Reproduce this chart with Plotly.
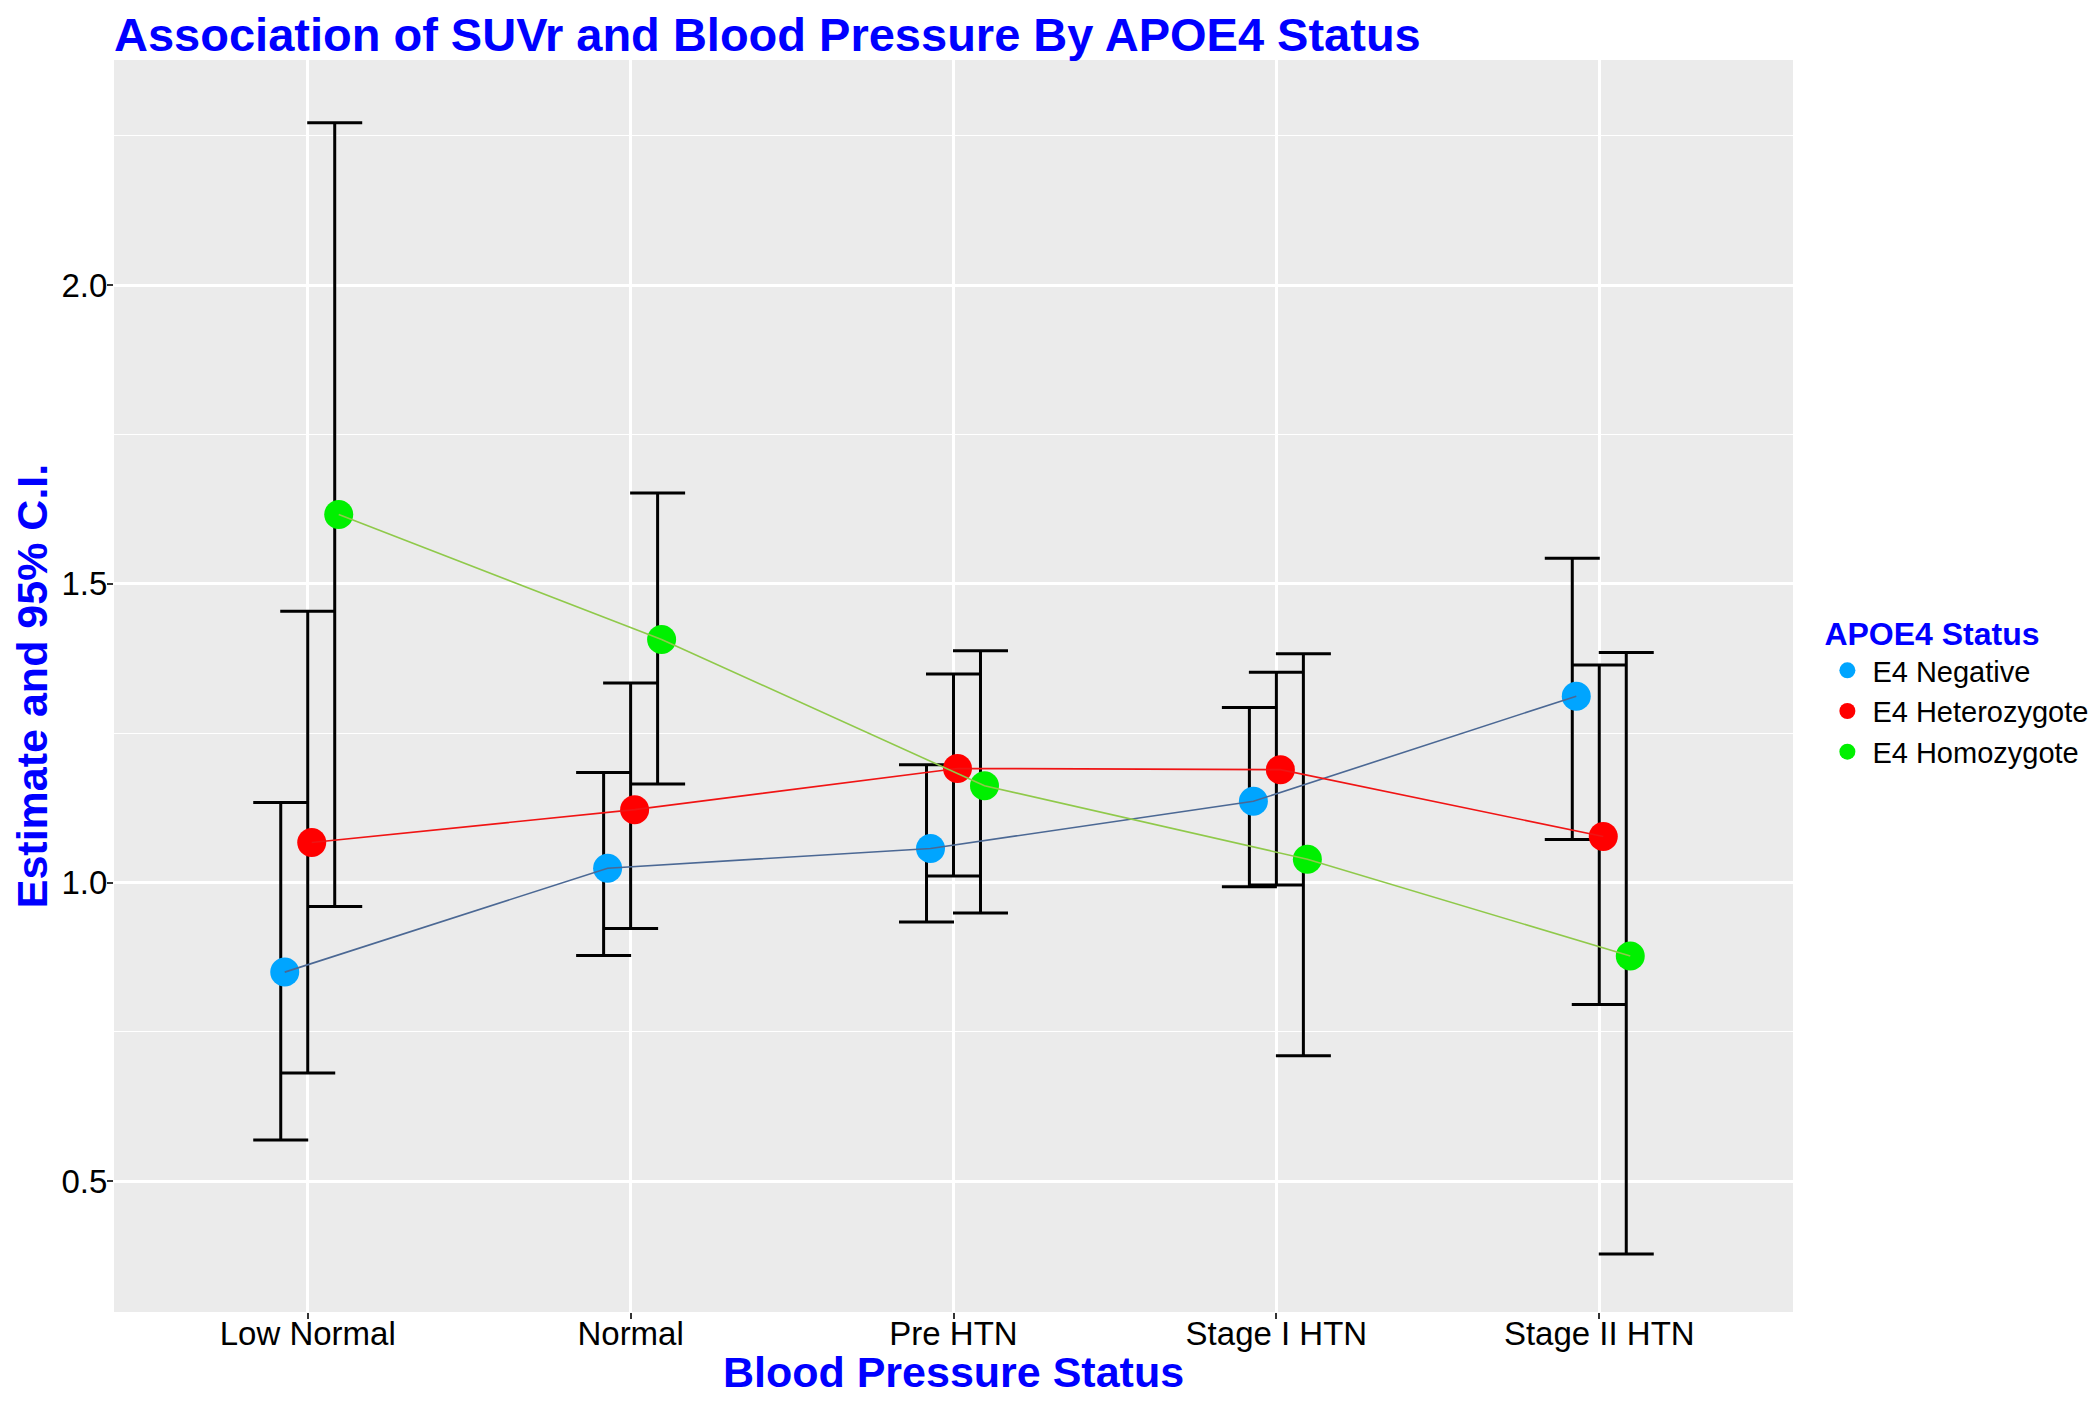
import plotly.graph_objects as go

# ---- data ----
categories = ["Low Normal", "Normal", "Pre HTN", "Stage I HTN", "Stage II HTN"]
groups = ["E4 Negative", "E4 Heterozygote", "E4 Homozygote"]

neg_est = [0.850, 1.024, 1.057, 1.136, 1.312]
neg_lo = [0.569, 0.878, 0.934, 0.993, 1.072]
neg_hi = [1.134, 1.184, 1.197, 1.293, 1.543]

het_est = [1.067, 1.122, 1.191, 1.189, 1.077]
het_lo = [0.681, 0.923, 1.011, 0.996, 0.796]
het_hi = [1.454, 1.334, 1.349, 1.352, 1.364]

hom_est = [1.616, 1.407, 1.162, 1.039, 0.877]
hom_lo = [0.960, 1.165, 0.949, 0.710, 0.378]
hom_hi = [2.272, 1.652, 1.388, 1.383, 1.385]

y_ticks = [0.5, 1.0, 1.5, 2.0]
y_ticklabels = ["0.5", "1.0", "1.5", "2.0"]

# ---- styles ----
point_colors = ["#00A5FF", "#FF0000", "#00F000"]
line_colors = ["#4B6894", "#F01414", "#8FC94A"]
DODGE = 0.0836
POINT_SHIFT = 0.0124
FONT = "Liberation Sans, Arial, sans-serif"
BLUE = "#0000FF"

series = [
    (neg_est, neg_lo, neg_hi),
    (het_est, het_lo, het_hi),
    (hom_est, hom_lo, hom_hi),
]
base_x = list(range(1, len(categories) + 1))

fig = go.Figure()

# error bars (bottom layer)
for gi, (est, lo, hi) in enumerate(series):
    off = (gi - 1) * DODGE
    xs = [b + off for b in base_x]
    fig.add_trace(go.Scatter(
        x=xs, y=est, mode="markers",
        marker=dict(size=1, color="rgba(0,0,0,0)"),
        error_y=dict(type="data", symmetric=False,
                     array=[h - e for h, e in zip(hi, est)],
                     arrayminus=[e - l for e, l in zip(est, lo)],
                     color="black", thickness=3, width=27.5),
        showlegend=False, hoverinfo="skip",
    ))

# points
for gi, (est, lo, hi) in enumerate(series):
    off = (gi - 1) * DODGE + POINT_SHIFT
    xs = [b + off for b in base_x]
    fig.add_trace(go.Scatter(
        x=xs, y=est, mode="markers", name=groups[gi],
        marker=dict(size=29, color=point_colors[gi], line=dict(width=0)),
        legendgroup=groups[gi], showlegend=True,
    ))

# connecting lines (top layer)
for gi, (est, lo, hi) in enumerate(series):
    off = (gi - 1) * DODGE + POINT_SHIFT
    xs = [b + off for b in base_x]
    fig.add_trace(go.Scatter(
        x=xs, y=est, mode="lines",
        line=dict(color=line_colors[gi], width=1.6),
        legendgroup=groups[gi], showlegend=False, hoverinfo="skip",
    ))

# page body has an 8px default margin -> figure sized/offset to compensate
W, H = 2084, 1388

fig.update_layout(
    width=W, height=H,
    margin=dict(l=106, r=299, t=52, b=84, autoexpand=False),
    paper_bgcolor="white",
    plot_bgcolor="#EBEBEB",
    font=dict(family=FONT, color="black", size=29),
    title=dict(
        text="<b>Association of SUVr and Blood Pressure By APOE4 Status</b>",
        font=dict(family=FONT, size=47, color=BLUE),
        xref="paper", x=0, xanchor="left",
        yref="container", y=1 - 27 / H, yanchor="middle",
    ),
    legend=dict(
        title=dict(text="<b>APOE4 Status</b>", font=dict(family=FONT, size=32, color=BLUE)),
        font=dict(family=FONT, size=29, color="black"),
        x=1.0175, xanchor="left", y=0.566, yanchor="top",
        bgcolor="rgba(255,255,255,0)", itemsizing="trace",
        itemwidth=40, tracegroupgap=0,
    ),
    showlegend=True,
)

fig.update_xaxes(
    range=[0.4, 5.6],
    tickmode="array", tickvals=base_x, ticktext=categories,
    tickfont=dict(family=FONT, size=33, color="black"),
    showgrid=True, gridcolor="white", gridwidth=2.7,
    zeroline=False, showline=False,
    ticks="outside", ticklen=6, tickwidth=2, tickcolor="#333333",
    ticklabelstandoff=-14,
    title=dict(text="<b>Blood Pressure Status</b>",
               font=dict(family=FONT, size=43, color=BLUE), standoff=16),
    automargin=False,
)
fig.update_yaxes(
    range=[0.281, 2.377],
    tickmode="array", tickvals=y_ticks, ticktext=y_ticklabels,
    tickfont=dict(family=FONT, size=33, color="black"),
    showgrid=True, gridcolor="white", gridwidth=2.7,
    minor=dict(tickmode="array", tickvals=[0.25, 0.75, 1.25, 1.75, 2.25],
               showgrid=True, gridcolor="white", gridwidth=1.3, ticks=""),
    zeroline=False, showline=False,
    ticks="outside", ticklen=6, tickwidth=2, tickcolor="#333333",
    ticklabelstandoff=-7,
    title=dict(text="<b>Estimate and 95% C.I.</b>",
               font=dict(family=FONT, size=43, color=BLUE), standoff=19),
    automargin=False,
)

fig.write_html("out.html")
